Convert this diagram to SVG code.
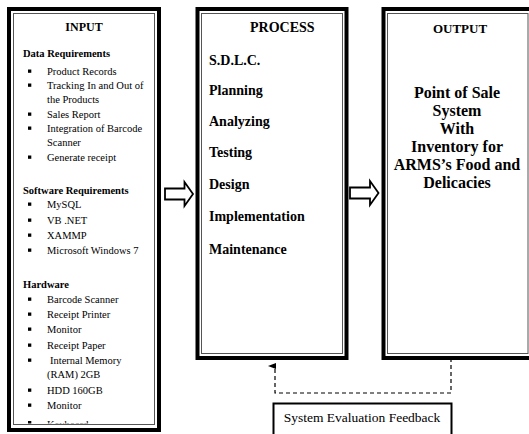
<svg xmlns="http://www.w3.org/2000/svg" width="529" height="434" viewBox="0 0 529 434">
<style>
.outer{fill:none;stroke:#000;stroke-width:4}
.inner{fill:none;stroke:#555;stroke-width:1}
.t{font-family:"Liberation Serif","Times New Roman",serif;fill:#000}
.s{font-size:10.5px}
.h{font-size:10.5px;font-weight:bold}
.p{font-size:14px;font-weight:bold}
.o{font-size:16px;font-weight:bold}
.f{font-size:13.5px}
.arrow{fill:#fff;stroke:#000;stroke-width:1.8;stroke-linejoin:miter}
.dash{fill:none;stroke:#000;stroke-width:1.2;stroke-dasharray:4 3}
</style>
<defs>
<rect id="b" width="3.3" height="3.3" fill="#000"/>
<clipPath id="inclip"><rect x="13" y="13" width="142" height="410.5"/></clipPath>
<marker id="ah" markerWidth="6" markerHeight="8" refX="3" refY="7" orient="auto" markerUnits="userSpaceOnUse">
<path d="M0,8 L3,0 L6,8 Z" fill="#000"/>
</marker>
</defs>
<rect width="529" height="434" fill="#fff"/>

<g id="input">
<rect class="outer" x="9" y="9" width="150" height="421"/>
<rect class="inner" x="13.5" y="13.5" width="141" height="411"/>
<text class="t" x="84" y="31" font-size="12" font-weight="bold" text-anchor="middle">INPUT</text>
<g clip-path="url(#inclip)">
<text class="t h" x="23" y="57">Data Requirements</text>
<use href="#b" x="28" y="69.5"/><text class="t s" x="47" y="75">Product Records</text>
<use href="#b" x="28" y="83.5"/><text class="t s" x="47" y="89">Tracking In and Out of</text>
<text class="t s" x="47" y="103">the Products</text>
<use href="#b" x="28" y="112.5"/><text class="t s" x="47" y="118">Sales Report</text>
<use href="#b" x="28" y="126.5"/><text class="t s" x="47" y="132">Integration of Barcode</text>
<text class="t s" x="47" y="146">Scanner</text>
<use href="#b" x="28" y="155.5"/><text class="t s" x="47" y="161">Generate receipt</text>
<text class="t h" x="23" y="194">Software Requirements</text>
<use href="#b" x="28" y="202.5"/><text class="t s" x="47" y="208">MySQL</text>
<use href="#b" x="28" y="218.5"/><text class="t s" x="47" y="224">VB .NET</text>
<use href="#b" x="28" y="233.5"/><text class="t s" x="47" y="239">XAMMP</text>
<use href="#b" x="28" y="248.5"/><text class="t s" x="47" y="254">Microsoft Windows 7</text>
<text class="t h" x="23" y="288">Hardware</text>
<use href="#b" x="28" y="297.5"/><text class="t s" x="47" y="303">Barcode Scanner</text>
<use href="#b" x="28" y="312.5"/><text class="t s" x="47" y="318">Receipt Printer</text>
<use href="#b" x="28" y="327.5"/><text class="t s" x="47" y="333">Monitor</text>
<use href="#b" x="28" y="343.5"/><text class="t s" x="47" y="349">Receipt Paper</text>
<use href="#b" x="28" y="358.5"/><text class="t s" x="50" y="364">Internal Memory</text>
<text class="t s" x="47" y="378">(RAM) 2GB</text>
<use href="#b" x="28" y="388.5"/><text class="t s" x="47" y="394">HDD 160GB</text>
<use href="#b" x="28" y="403.5"/><text class="t s" x="47" y="409">Monitor</text>
<use href="#b" x="28" y="421"/><text class="t s" x="47" y="427.5">Keyboard</text>
</g>
</g>

<g id="process">
<rect class="outer" x="197.5" y="9" width="149" height="349"/>
<rect class="inner" x="201.5" y="13.5" width="141" height="340"/>
<text class="t p" x="250" y="32">PROCESS</text>
<text class="t p" x="209" y="65">S.D.L.C.</text>
<text class="t p" x="209" y="95">Planning</text>
<text class="t p" x="209" y="126">Analyzing</text>
<text class="t p" x="209" y="157">Testing</text>
<text class="t p" x="209" y="189">Design</text>
<text class="t p" x="209" y="221">Implementation</text>
<text class="t p" x="209" y="254">Maintenance</text>
</g>

<g id="output">
<rect class="outer" x="383.5" y="9" width="150" height="349"/>
<rect class="inner" x="387.5" y="13.5" width="140.5" height="340"/>
<text class="t" x="460" y="33" font-size="13" font-weight="bold" text-anchor="middle">OUTPUT</text>
<g class="t o" text-anchor="middle">
<text x="457" y="98">Point of Sale</text>
<text x="457" y="116">System</text>
<text x="457" y="134">With</text>
<text x="457" y="152">Inventory for</text>
<text x="457" y="170">ARMS’s Food and</text>
<text x="457" y="188">Delicacies</text>
</g>
</g>

<g id="feedback">
<rect x="273.5" y="403.5" width="178" height="40" fill="#fff" stroke="#000" stroke-width="2"/>
<text class="t f" x="362" y="422" text-anchor="middle">System Evaluation Feedback</text>
</g>

<g id="connectors">
<path class="arrow" d="M165,188.5 H184.5 V182 L193,194 L184.5,206 V199.5 H165 Z"/>
<path class="arrow" d="M350,187.5 H370 V181 L378.5,193 L370,205 V198.5 H350 Z"/>
<path class="dash" d="M451,358 V393 H275 V366" marker-end="url(#ah)"/>
</g>
</svg>
